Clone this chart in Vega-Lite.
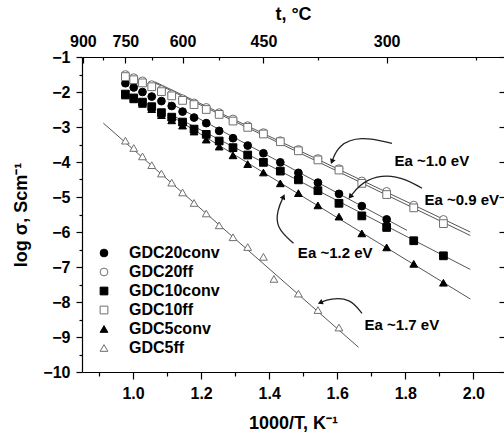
{
  "$schema": "https://vega.github.io/schema/vega-lite/v6.json",
  "width": 422,
  "height": 315,
  "autosize": {"type": "none"},
  "padding": {"left": 82, "top": 57, "right": 0, "bottom": 65},
  "background": "white",
  "config": {
    "view": {"stroke": null},
    "font": "Liberation Sans",
    "axis": {
      "grid": false,
      "domainColor": "#000",
      "tickColor": "#000",
      "labelColor": "#000",
      "titleColor": "#000",
      "labelFont": "Liberation Sans",
      "titleFont": "Liberation Sans",
      "labelFontSize": 16,
      "labelFontWeight": "bold",
      "titleFontSize": 18,
      "titleFontWeight": "bold",
      "labelFlush": false,
      "labelOverlap": false,
      "domainWidth": 1.2,
      "tickWidth": 1.2
    }
  },
  "datasets": {
    "pts": [
      {"s": "GDC20conv", "x": 0.9775, "y": -1.75}, {"s": "GDC20conv", "x": 1.002, "y": -1.87}, {"s": "GDC20conv", "x": 1.0277, "y": -2.0}, {"s": "GDC20conv", "x": 1.0549, "y": -2.13}, {"s": "GDC20conv", "x": 1.0834, "y": -2.26}, {"s": "GDC20conv", "x": 1.1136, "y": -2.4}, {"s": "GDC20conv", "x": 1.1455, "y": -2.56}, {"s": "GDC20conv", "x": 1.1792, "y": -2.73}, {"s": "GDC20conv", "x": 1.2151, "y": -2.89}, {"s": "GDC20conv", "x": 1.2531, "y": -3.11}, {"s": "GDC20conv", "x": 1.2937, "y": -3.32}, {"s": "GDC20conv", "x": 1.3369, "y": -3.53}, {"s": "GDC20conv", "x": 1.3831, "y": -3.75}, {"s": "GDC20conv", "x": 1.4327, "y": -4.01}, {"s": "GDC20conv", "x": 1.4859, "y": -4.31}, {"s": "GDC20conv", "x": 1.5432, "y": -4.59}, {"s": "GDC20conv", "x": 1.6051, "y": -4.91}, {"s": "GDC20conv", "x": 1.6722, "y": -5.26}, {"s": "GDC20conv", "x": 1.7452, "y": -5.64},
      {"s": "GDC20ff", "x": 0.9775, "y": -1.5}, {"s": "GDC20ff", "x": 1.002, "y": -1.59}, {"s": "GDC20ff", "x": 1.0277, "y": -1.68}, {"s": "GDC20ff", "x": 1.0549, "y": -1.79}, {"s": "GDC20ff", "x": 1.0834, "y": -1.93}, {"s": "GDC20ff", "x": 1.1136, "y": -2.06}, {"s": "GDC20ff", "x": 1.1455, "y": -2.19}, {"s": "GDC20ff", "x": 1.1792, "y": -2.31}, {"s": "GDC20ff", "x": 1.2151, "y": -2.44}, {"s": "GDC20ff", "x": 1.2531, "y": -2.59}, {"s": "GDC20ff", "x": 1.2937, "y": -2.77}, {"s": "GDC20ff", "x": 1.3369, "y": -2.96}, {"s": "GDC20ff", "x": 1.3831, "y": -3.16}, {"s": "GDC20ff", "x": 1.4327, "y": -3.39}, {"s": "GDC20ff", "x": 1.4859, "y": -3.64}, {"s": "GDC20ff", "x": 1.5432, "y": -3.9}, {"s": "GDC20ff", "x": 1.6051, "y": -4.19}, {"s": "GDC20ff", "x": 1.6722, "y": -4.54}, {"s": "GDC20ff", "x": 1.7452, "y": -4.84}, {"s": "GDC20ff", "x": 1.8248, "y": -5.23}, {"s": "GDC20ff", "x": 1.912, "y": -5.64},
      {"s": "GDC10conv", "x": 0.9775, "y": -2.06}, {"s": "GDC10conv", "x": 1.002, "y": -2.17}, {"s": "GDC10conv", "x": 1.0277, "y": -2.29}, {"s": "GDC10conv", "x": 1.0549, "y": -2.42}, {"s": "GDC10conv", "x": 1.0834, "y": -2.59}, {"s": "GDC10conv", "x": 1.1136, "y": -2.72}, {"s": "GDC10conv", "x": 1.1455, "y": -2.86}, {"s": "GDC10conv", "x": 1.1792, "y": -3.06}, {"s": "GDC10conv", "x": 1.2151, "y": -3.21}, {"s": "GDC10conv", "x": 1.2531, "y": -3.4}, {"s": "GDC10conv", "x": 1.2937, "y": -3.59}, {"s": "GDC10conv", "x": 1.3369, "y": -3.8}, {"s": "GDC10conv", "x": 1.3831, "y": -4.01}, {"s": "GDC10conv", "x": 1.4327, "y": -4.26}, {"s": "GDC10conv", "x": 1.4859, "y": -4.51}, {"s": "GDC10conv", "x": 1.5432, "y": -4.82}, {"s": "GDC10conv", "x": 1.6051, "y": -5.18}, {"s": "GDC10conv", "x": 1.6722, "y": -5.54}, {"s": "GDC10conv", "x": 1.7452, "y": -5.87}, {"s": "GDC10conv", "x": 1.8248, "y": -6.25}, {"s": "GDC10conv", "x": 1.912, "y": -6.68},
      {"s": "GDC10ff", "x": 0.9775, "y": -1.56}, {"s": "GDC10ff", "x": 1.002, "y": -1.65}, {"s": "GDC10ff", "x": 1.0277, "y": -1.74}, {"s": "GDC10ff", "x": 1.0549, "y": -1.85}, {"s": "GDC10ff", "x": 1.0834, "y": -1.99}, {"s": "GDC10ff", "x": 1.1136, "y": -2.11}, {"s": "GDC10ff", "x": 1.1455, "y": -2.24}, {"s": "GDC10ff", "x": 1.1792, "y": -2.36}, {"s": "GDC10ff", "x": 1.2151, "y": -2.5}, {"s": "GDC10ff", "x": 1.2531, "y": -2.64}, {"s": "GDC10ff", "x": 1.2937, "y": -2.83}, {"s": "GDC10ff", "x": 1.3369, "y": -3.01}, {"s": "GDC10ff", "x": 1.3831, "y": -3.2}, {"s": "GDC10ff", "x": 1.4327, "y": -3.42}, {"s": "GDC10ff", "x": 1.4859, "y": -3.68}, {"s": "GDC10ff", "x": 1.5432, "y": -3.94}, {"s": "GDC10ff", "x": 1.6051, "y": -4.23}, {"s": "GDC10ff", "x": 1.6722, "y": -4.61}, {"s": "GDC10ff", "x": 1.7452, "y": -4.93}, {"s": "GDC10ff", "x": 1.8248, "y": -5.31}, {"s": "GDC10ff", "x": 1.912, "y": -5.76},
      {"s": "GDC5conv", "x": 0.9775, "y": -2.1}, {"s": "GDC5conv", "x": 1.002, "y": -2.21}, {"s": "GDC5conv", "x": 1.0277, "y": -2.34}, {"s": "GDC5conv", "x": 1.0549, "y": -2.49}, {"s": "GDC5conv", "x": 1.0834, "y": -2.66}, {"s": "GDC5conv", "x": 1.1136, "y": -2.81}, {"s": "GDC5conv", "x": 1.1455, "y": -2.96}, {"s": "GDC5conv", "x": 1.1792, "y": -3.13}, {"s": "GDC5conv", "x": 1.2151, "y": -3.36}, {"s": "GDC5conv", "x": 1.2531, "y": -3.56}, {"s": "GDC5conv", "x": 1.2937, "y": -3.81}, {"s": "GDC5conv", "x": 1.3369, "y": -4.06}, {"s": "GDC5conv", "x": 1.3831, "y": -4.3}, {"s": "GDC5conv", "x": 1.4327, "y": -4.61}, {"s": "GDC5conv", "x": 1.4859, "y": -4.89}, {"s": "GDC5conv", "x": 1.5432, "y": -5.24}, {"s": "GDC5conv", "x": 1.6051, "y": -5.56}, {"s": "GDC5conv", "x": 1.6722, "y": -6.04}, {"s": "GDC5conv", "x": 1.7452, "y": -6.44}, {"s": "GDC5conv", "x": 1.8248, "y": -6.91}, {"s": "GDC5conv", "x": 1.912, "y": -7.45},
      {"s": "GDC5ff", "x": 0.9775, "y": -3.39}, {"s": "GDC5ff", "x": 1.002, "y": -3.6}, {"s": "GDC5ff", "x": 1.0277, "y": -3.84}, {"s": "GDC5ff", "x": 1.0549, "y": -4.09}, {"s": "GDC5ff", "x": 1.0834, "y": -4.33}, {"s": "GDC5ff", "x": 1.1136, "y": -4.59}, {"s": "GDC5ff", "x": 1.1455, "y": -4.87}, {"s": "GDC5ff", "x": 1.1792, "y": -5.17}, {"s": "GDC5ff", "x": 1.2151, "y": -5.47}, {"s": "GDC5ff", "x": 1.2531, "y": -5.81}, {"s": "GDC5ff", "x": 1.2937, "y": -6.15}, {"s": "GDC5ff", "x": 1.3369, "y": -6.43}, {"s": "GDC5ff", "x": 1.3831, "y": -6.71}, {"s": "GDC5ff", "x": 1.414, "y": -7.34}, {"s": "GDC5ff", "x": 1.4859, "y": -7.76}, {"s": "GDC5ff", "x": 1.5432, "y": -8.23}, {"s": "GDC5ff", "x": 1.6051, "y": -8.73}
    ],
    "fits": [
      {"id": "f20ff", "x": 1.065, "y": -1.714}, {"id": "f20ff", "x": 1.991, "y": -6.0},
      {"id": "f10ff", "x": 1.065, "y": -1.743}, {"id": "f10ff", "x": 1.991, "y": -6.1},
      {"id": "c20", "x": 1.103, "y": -2.286}, {"id": "c20", "x": 1.805, "y": -5.954},
      {"id": "c10", "x": 1.103, "y": -2.603}, {"id": "c10", "x": 1.991, "y": -7.07},
      {"id": "c5", "x": 1.103, "y": -2.634}, {"id": "c5", "x": 1.991, "y": -7.914},
      {"id": "f5", "x": 0.9126, "y": -2.889}, {"id": "f5", "x": 1.6626, "y": -9.294}
    ],
    "arrows": [
      {"a": "a1", "o": 1, "x": 1.7609, "y": -3.466}, {"a": "a1", "o": 2, "x": 1.6676, "y": -3.257}, {"a": "a1", "o": 3, "x": 1.6029, "y": -3.514}, {"a": "a1", "o": 4, "x": 1.5844, "y": -3.991},
      {"a": "a2", "o": 1, "x": 1.8491, "y": -4.751}, {"a": "a2", "o": 2, "x": 1.7756, "y": -4.343}, {"a": "a2", "o": 3, "x": 1.6824, "y": -4.457}, {"a": "a2", "o": 4, "x": 1.6382, "y": -4.991},
      {"a": "a3", "o": 1, "x": 1.4715, "y": -6.323}, {"a": "a3", "o": 2, "x": 1.4206, "y": -5.886}, {"a": "a3", "o": 3, "x": 1.4235, "y": -5.371}, {"a": "a3", "o": 4, "x": 1.4421, "y": -4.991},
      {"a": "a4", "o": 1, "x": 1.6726, "y": -8.323}, {"a": "a4", "o": 2, "x": 1.6382, "y": -7.894}, {"a": "a4", "o": 3, "x": 1.5794, "y": -7.894}, {"a": "a4", "o": 4, "x": 1.55, "y": -8.02}
    ],
    "heads": [
      {"x": 1.5844, "y": -3.991, "ang": 201},
      {"x": 1.6382, "y": -4.991, "ang": 219},
      {"x": 1.4421, "y": -4.991, "ang": 25},
      {"x": 1.55, "y": -8.02, "ang": 246}
    ],
    "labels": [
      {"t": "Ea ~1.0 eV", "x": 1.878, "y": -3.963},
      {"t": "Ea ~0.9 eV", "x": 1.966, "y": -5.086},
      {"t": "Ea ~1.2 eV", "x": 1.594, "y": -6.609},
      {"t": "Ea ~1.7 eV", "x": 1.79, "y": -8.657}
    ]
  },
  "layer": [
    {
      "data": {"name": "fits"},
      "mark": {"type": "line", "color": "#555", "strokeWidth": 1},
      "encoding": {
        "x": {"field": "x", "type": "quantitative", "scale": {"domain": [0.85, 2.09], "nice": false, "zero": false}, "axis": null},
        "y": {"field": "y", "type": "quantitative", "scale": {"domain": [-10, -1], "nice": false, "zero": false}, "axis": null},
        "detail": {"field": "id"}
      }
    },
    {
      "data": {"name": "pts"},
      "mark": {"type": "point", "filled": true, "size": 60, "strokeWidth": 1, "opacity": 1},
      "encoding": {
        "x": {"field": "x", "type": "quantitative", "scale": {"domain": [0.85, 2.09], "nice": false, "zero": false},
          "axis": {"orient": "bottom", "title": "1000/T, K⁻¹", "values": [1.0, 1.2, 1.4, 1.6, 1.8, 2.0], "format": ".1f", "tickSize": 7, "labelPadding": 6, "titlePadding": 13}},
        "y": {"field": "y", "type": "quantitative", "scale": {"domain": [-10, -1], "nice": false, "zero": false},
          "axis": {"orient": "left", "title": "log σ, Scm⁻¹", "values": [-10, -9, -8, -7, -6, -5, -4, -3, -2, -1], "format": "d", "tickSize": 6, "labelPadding": 6, "titlePadding": 12}},
        "shape": {"field": "s", "type": "nominal",
          "scale": {"domain": ["GDC20conv", "GDC20ff", "GDC10conv", "GDC10ff", "GDC5conv", "GDC5ff"], "range": ["circle", "circle", "square", "square", "triangle-up", "triangle-up"]},
          "legend": {"title": null, "orient": "none", "legendX": 14, "legendY": 188, "padding": 0, "labelFont": "Liberation Sans", "labelFontSize": 16, "labelFontWeight": "bold", "labelColor": "#000", "symbolSize": 60, "symbolStrokeWidth": 1, "labelOffset": 17, "rowPadding": 3}},
        "fill": {"field": "s", "type": "nominal",
          "scale": {"domain": ["GDC20conv", "GDC20ff", "GDC10conv", "GDC10ff", "GDC5conv", "GDC5ff"], "range": ["#000", "#fff", "#000", "#fff", "#000", "#fff"]},
          "legend": {"title": null, "orient": "none", "legendX": 14, "legendY": 188, "padding": 0, "labelFont": "Liberation Sans", "labelFontSize": 16, "labelFontWeight": "bold", "labelColor": "#000", "symbolSize": 60, "symbolStrokeWidth": 1, "labelOffset": 17, "rowPadding": 3}},
        "stroke": {"field": "s", "type": "nominal",
          "scale": {"domain": ["GDC20conv", "GDC20ff", "GDC10conv", "GDC10ff", "GDC5conv", "GDC5ff"], "range": ["#000", "#707070", "#000", "#707070", "#000", "#707070"]},
          "legend": {"title": null, "orient": "none", "legendX": 14, "legendY": 188, "padding": 0, "labelFont": "Liberation Sans", "labelFontSize": 16, "labelFontWeight": "bold", "labelColor": "#000", "symbolSize": 60, "symbolStrokeWidth": 1, "labelOffset": 17, "rowPadding": 3}}
      }
    },
    {
      "data": {"name": "pts"},
      "mark": {"type": "point", "opacity": 0},
      "encoding": {
        "x": {"field": "x", "type": "quantitative", "scale": {"domain": [0.85, 2.09], "nice": false, "zero": false},
          "axis": {"orient": "bottom", "title": null, "values": [0.9, 1.1, 1.3, 1.5, 1.7, 1.9], "labels": false, "domain": false, "tickSize": 4}},
        "y": {"field": "y", "type": "quantitative", "scale": {"domain": [-10, -1], "nice": false, "zero": false},
          "axis": {"orient": "left", "title": null, "values": [-9.5, -8.5, -7.5, -6.5, -5.5, -4.5, -3.5, -2.5, -1.5], "labels": false, "domain": false, "tickSize": 3}}
      }
    },
    {
      "data": {"name": "pts"},
      "mark": {"type": "point", "opacity": 0},
      "encoding": {
        "x": {"field": "x", "type": "quantitative", "scale": {"domain": [0.85, 2.09], "nice": false, "zero": false},
          "axis": {"orient": "top", "title": "t, °C", "values": [0.852515, 0.977517, 1.145475, 1.383126, 1.745201], "labelExpr": "format(1000/datum.value - 273, '.0f')", "tickSize": -6, "labelPadding": 14, "titlePadding": 10}},
        "y": {"field": "y", "type": "quantitative", "scale": {"domain": [-10, -1], "nice": false, "zero": false},
          "axis": {"orient": "right", "title": null, "values": [-10, -9, -8, -7, -6, -5, -4, -3, -2, -1], "labels": false, "domain": false, "tickSize": -5}}
      }
    },
    {
      "data": {"name": "pts"},
      "mark": {"type": "point", "opacity": 0},
      "encoding": {
        "x": {"field": "x", "type": "quantitative", "scale": {"domain": [0.85, 2.09], "nice": false, "zero": false},
          "axis": {"orient": "top", "title": null, "values": [0.910747, 1.054852, 1.253133, 1.54321, 2.008032], "labels": false, "domain": false, "tickSize": -3}},
        "y": {"field": "y", "type": "quantitative", "scale": {"domain": [-10, -1], "nice": false, "zero": false}, "axis": null}
      }
    },
    {
      "data": {"name": "arrows"},
      "mark": {"type": "line", "color": "#222", "strokeWidth": 1.3, "interpolate": "basis"},
      "encoding": {
        "x": {"field": "x", "type": "quantitative", "scale": {"domain": [0.85, 2.09], "nice": false, "zero": false}, "axis": null},
        "y": {"field": "y", "type": "quantitative", "scale": {"domain": [-10, -1], "nice": false, "zero": false}, "axis": null},
        "detail": {"field": "a"},
        "order": {"field": "o"}
      }
    },
    {
      "data": {"name": "heads"},
      "mark": {"type": "point", "shape": "triangle-up", "filled": true, "color": "#111", "size": 35, "opacity": 1},
      "encoding": {
        "x": {"field": "x", "type": "quantitative", "scale": {"domain": [0.85, 2.09], "nice": false, "zero": false}, "axis": null},
        "y": {"field": "y", "type": "quantitative", "scale": {"domain": [-10, -1], "nice": false, "zero": false}, "axis": null},
        "angle": {"field": "ang", "type": "quantitative", "scale": null}
      }
    },
    {
      "data": {"name": "labels"},
      "mark": {"type": "text", "font": "Liberation Sans", "fontSize": 15, "fontWeight": "bold", "color": "#000", "align": "center", "baseline": "middle"},
      "encoding": {
        "x": {"field": "x", "type": "quantitative", "scale": {"domain": [0.85, 2.09], "nice": false, "zero": false}, "axis": null},
        "y": {"field": "y", "type": "quantitative", "scale": {"domain": [-10, -1], "nice": false, "zero": false}, "axis": null},
        "text": {"field": "t"}
      }
    }
  ],
  "resolve": {"axis": {"x": "independent", "y": "independent"}}
}
